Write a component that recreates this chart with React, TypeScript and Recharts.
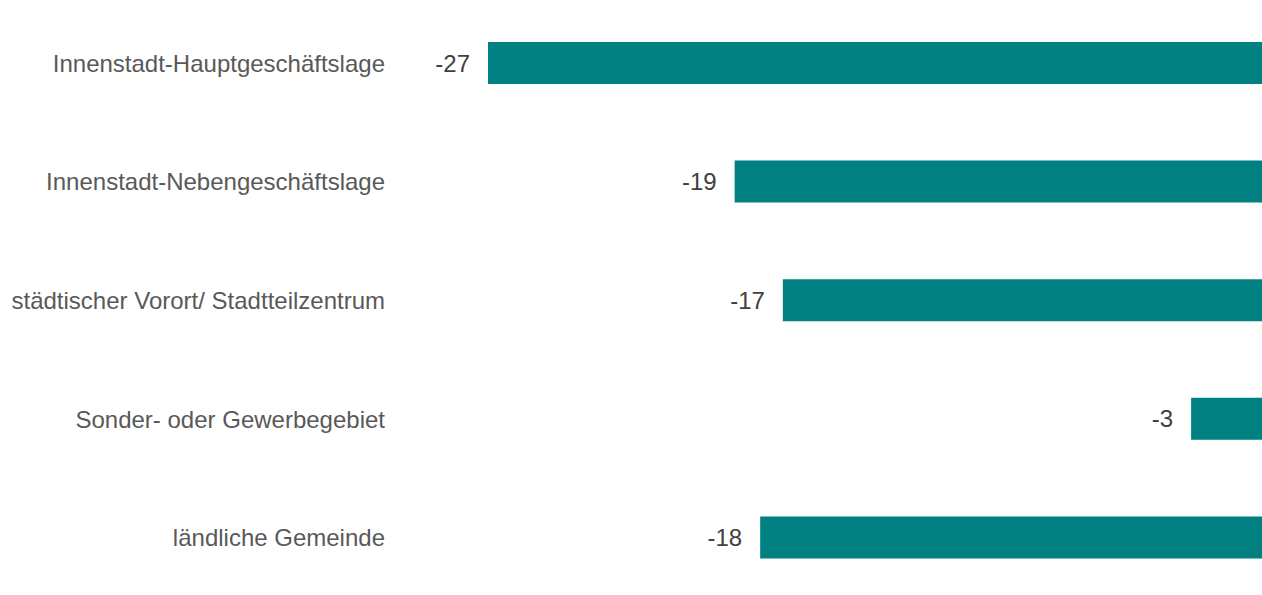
import { Bar, BarChart, LabelList, XAxis, YAxis } from 'recharts';

// Categories top to bottom, change vs. previous period
const CATEGORIES = [
  'Innenstadt-Hauptgeschäftslage',
  'Innenstadt-Nebengeschäftslage',
  'städtischer Vorort/ Stadtteilzentrum',
  'Sonder- oder Gewerbegebiet',
  'ländliche Gemeinde',
];
const VALUES = [-27.3, -18.6, -16.9, -2.5, -17.7];

const TEAL = '#008080';
const FONT = '"Liberation Sans", Arial, sans-serif';

const data = CATEGORIES.map((name, i) => ({ name, value: VALUES[i] }));

const fmt = (v: number) => `${v < 0 ? '-' : ''}${Math.round(Math.abs(v))}`;

// label sits just left of the bar's left end, whichever way the rect is stored
function ValueLabel(props: any) {
  const { x, y, width, height, value } = props;
  const left = Math.min(Number(x), Number(x) + Number(width));
  return (
    <text
      x={left - 18}
      y={Number(y) + Number(height) / 2}
      textAnchor="end"
      dominantBaseline="central"
      fill="#404040"
      fontSize={24}
      fontFamily={FONT}
    >
      {fmt(Number(value))}
    </text>
  );
}

export default function App() {
  return (
    <div style={{ position: 'absolute', left: 0, top: 0, width: 1262, height: 595, overflow: 'hidden', background: '#fff' }}>
      <BarChart
        width={1262}
        height={597}
        data={data}
        layout="vertical"
        margin={{ top: 4, right: 0, bottom: 0, left: 0 }}
      >
        <XAxis type="number" domain={[-27.3, 0]} hide />
        <YAxis
          type="category"
          dataKey="name"
          width={488}
          axisLine={false}
          tickLine={false}
          tickSize={0}
          tickMargin={103}
          tick={{ fill: '#595959', fontSize: 24, fontFamily: FONT }}
          interval={0}
        />
        <Bar dataKey="value" fill={TEAL} barSize={42} isAnimationActive={false}>
          <LabelList dataKey="value" content={ValueLabel} />
        </Bar>
      </BarChart>
    </div>
  );
}
